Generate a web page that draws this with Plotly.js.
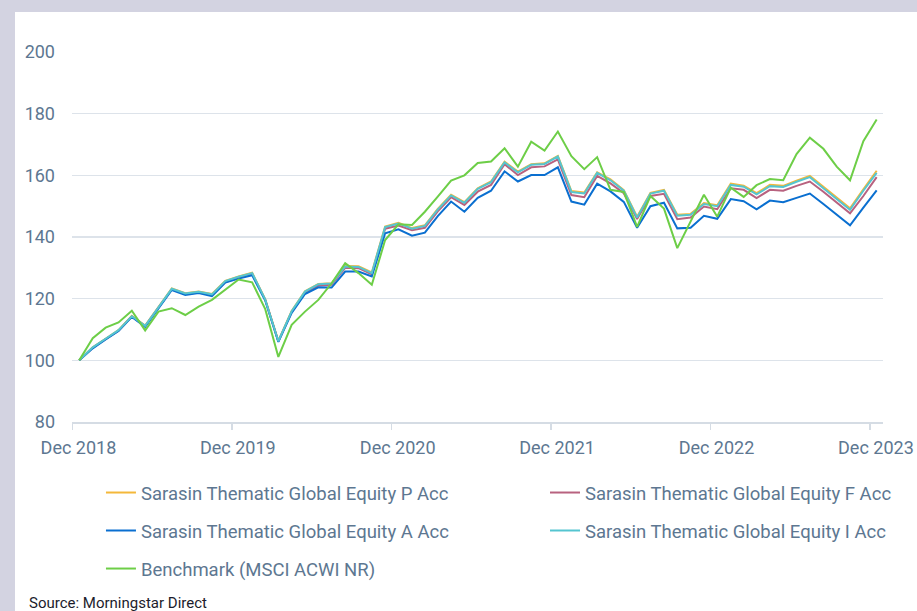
<!DOCTYPE html>
<html>
<head>
<meta charset="utf-8">
<script src="https://cdn.plot.ly/plotly-3.0.1.min.js"></script>
<style>
html,body{margin:0;padding:0;background:#d3d3e1;width:917px;height:611px;overflow:hidden;}
#chart{position:absolute;left:15px;top:12px;width:902px;height:599px;background:#fff;}
</style>
</head>
<body>
<div id="chart"></div>
<script>
const months = [
 '2018-12',
 '2019-01','2019-02','2019-03','2019-04','2019-05','2019-06','2019-07','2019-08','2019-09','2019-10','2019-11','2019-12',
 '2020-01','2020-02','2020-03','2020-04','2020-05','2020-06','2020-07','2020-08','2020-09','2020-10','2020-11','2020-12',
 '2021-01','2021-02','2021-03','2021-04','2021-05','2021-06','2021-07','2021-08','2021-09','2021-10','2021-11','2021-12',
 '2022-01','2022-02','2022-03','2022-04','2022-05','2022-06','2022-07','2022-08','2022-09','2022-10','2022-11','2022-12',
 '2023-01','2023-02','2023-03','2023-04','2023-05','2023-06','2023-07','2023-08','2023-09','2023-10','2023-11','2023-12'
];
const fundP = [100,104.2,107.0,109.8,114.4,111.3,117.3,123.3,121.8,122.3,121.5,125.8,127.2,128.4,119.8,106.3,116.0,122.4,124.8,125.0,130.6,130.5,128.5,143.4,144.6,142.9,143.8,149.1,153.7,151.3,155.8,158.0,164.4,161.2,163.6,163.9,166.3,154.9,154.4,161.0,158.7,155.2,146.6,154.3,155.3,147.2,147.5,151.0,150.3,157.3,156.6,154.2,156.9,156.6,158.3,159.8,156.3,152.8,149.3,155.5,161.5];
const fundF = [100,104.1,106.9,109.6,114.2,111.1,117.1,123.0,121.5,122.0,121.1,125.4,126.8,128.0,119.6,106.1,115.7,121.9,124.3,124.5,130.0,129.9,127.9,142.7,143.7,142.2,143.0,148.3,152.9,150.4,154.7,156.9,163.6,160.1,162.6,162.9,165.2,153.6,152.9,159.8,157.4,154.2,145.8,153.3,154.0,145.8,146.3,149.9,149.0,155.8,155.3,152.6,155.3,155.0,156.6,158.0,154.7,151.2,147.7,153.3,159.4];
const fundI = [100,104.2,107.0,109.8,114.3,111.2,117.2,123.2,121.7,122.2,121.4,125.7,127.1,128.3,119.7,106.2,115.9,122.3,124.7,124.9,130.4,130.3,128.3,143.2,144.4,142.7,143.6,148.9,153.5,151.1,155.6,157.8,164.2,161.0,163.4,163.7,166.1,154.6,154.1,160.8,158.4,155.0,146.3,154.1,155.0,146.9,147.2,150.7,150.0,156.9,156.3,153.8,156.5,156.2,157.9,159.4,155.8,152.3,148.8,155.0,160.8];
const fundA = [100,103.9,106.8,109.5,114.1,110.9,116.8,122.8,121.2,121.8,120.8,125.2,126.5,127.6,119.4,106.0,115.4,121.5,123.7,123.6,128.8,128.8,127.2,141.2,142.5,140.4,141.4,146.8,151.5,148.2,152.7,155.0,161.3,158.0,160.1,160.1,162.6,151.5,150.5,157.3,154.8,151.4,143.0,150.0,151.1,142.8,143.0,146.9,145.9,152.3,151.6,149.0,151.8,151.3,152.7,154.1,150.7,147.3,143.8,149.5,155.1];
const benchmark = [100,107.2,110.6,112.3,116.1,109.7,115.8,116.9,114.7,117.4,119.6,123.0,126.2,125.3,116.6,101.1,111.5,115.8,119.6,125.0,131.5,128.3,124.5,139.0,144.1,143.9,148.2,153.1,158.3,160.0,164.0,164.5,168.8,162.8,170.9,168.0,174.2,166.2,162.0,165.9,155.3,154.6,143.3,153.3,149.2,136.4,145.0,153.7,146.6,156.0,153.0,156.8,158.8,158.4,166.9,172.2,168.6,162.8,158.4,171.1,178.1];
const names = [
 'Sarasin Thematic Global Equity P Acc',
 'Sarasin Thematic Global Equity F Acc',
 'Sarasin Thematic Global Equity A Acc',
 'Sarasin Thematic Global Equity I Acc',
 'Benchmark (MSCI ACWI NR)'
];
const yTicks = [80,100,120,140,160,180,200];

const txt = '#5d7791';
const font = 'Roboto, "Noto Sans", sans-serif';
function tr(y, name, color, legend){
  return {x: months, y: y, name: name, type: 'scatter', mode: 'lines',
    xperiod: 'M1', xperiodalignment: 'middle',
    line: {color: color, width: 2}, legend: legend, hoverinfo: 'skip'};
}
const data = [
  tr(fundP, names[0], '#f4b83a', 'legend'),
  tr(fundF, names[1], '#b8627f', 'legend2'),
  tr(fundA, names[2], '#0a6fd0', 'legend3'),
  tr(fundI, names[3], '#55c5d0', 'legend4'),
  tr(benchmark, names[4], '#6dce47', 'legend5')
];
function leg(x, y){
  return {orientation: 'v', xref: 'container', yref: 'container', xanchor: 'left', yanchor: 'middle',
    x: x, y: y, font: {family: font, size: 18.5, color: txt},
    bgcolor: 'rgba(0,0,0,0)', borderwidth: 0};
}
const c1 = 0.0953, c2 = 0.5876;
const layout = {
  width: 902, height: 599,
  margin: {l: 57, r: 34, t: 40, b: 189, autoexpand: false},
  paper_bgcolor: '#ffffff', plot_bgcolor: '#ffffff',
  font: {family: font, color: txt, size: 18},
  showlegend: true,
  xaxis: {type: 'date', range: ['2018-11-30', '2023-12-31'], tick0: '2018-12-01', dtick: 'M12',
    tickformat: '%b %Y', tickangle: 0, ticks: 'outside', ticklen: 6, tickwidth: 1.5, tickcolor: '#d5dce4',
    showline: true, linecolor: '#d5dce4', linewidth: 1.5, showgrid: false, zeroline: false,
    ticklabelshift: 6, ticklabelstandoff: 3, automargin: false,
    tickfont: {family: font, size: 18, color: txt}},
  yaxis: {range: [80, 200], tickvals: yTicks, ticks: '', showline: false, zeroline: false,
    gridcolor: '#dde3ea', gridwidth: 1.5, ticklabelstandoff: 16, automargin: false,
    tickfont: {family: font, size: 18, color: txt}},
  legend: leg(c1, 0.197),
  legend2: leg(c2, 0.197),
  legend3: leg(c1, 0.1336),
  legend4: leg(c2, 0.1336),
  legend5: leg(c1, 0.0701),
  annotations: [{xref: 'paper', yref: 'paper', x: -0.0555, y: -0.489, xanchor: 'left', yanchor: 'middle',
    showarrow: false, text: 'Source: Morningstar Direct', font: {family: font, size: 15, color: '#1c1c2c'}}]
};
Plotly.newPlot('chart', data, layout, {displayModeBar: false, staticPlot: true});
</script>
</body>
</html>
